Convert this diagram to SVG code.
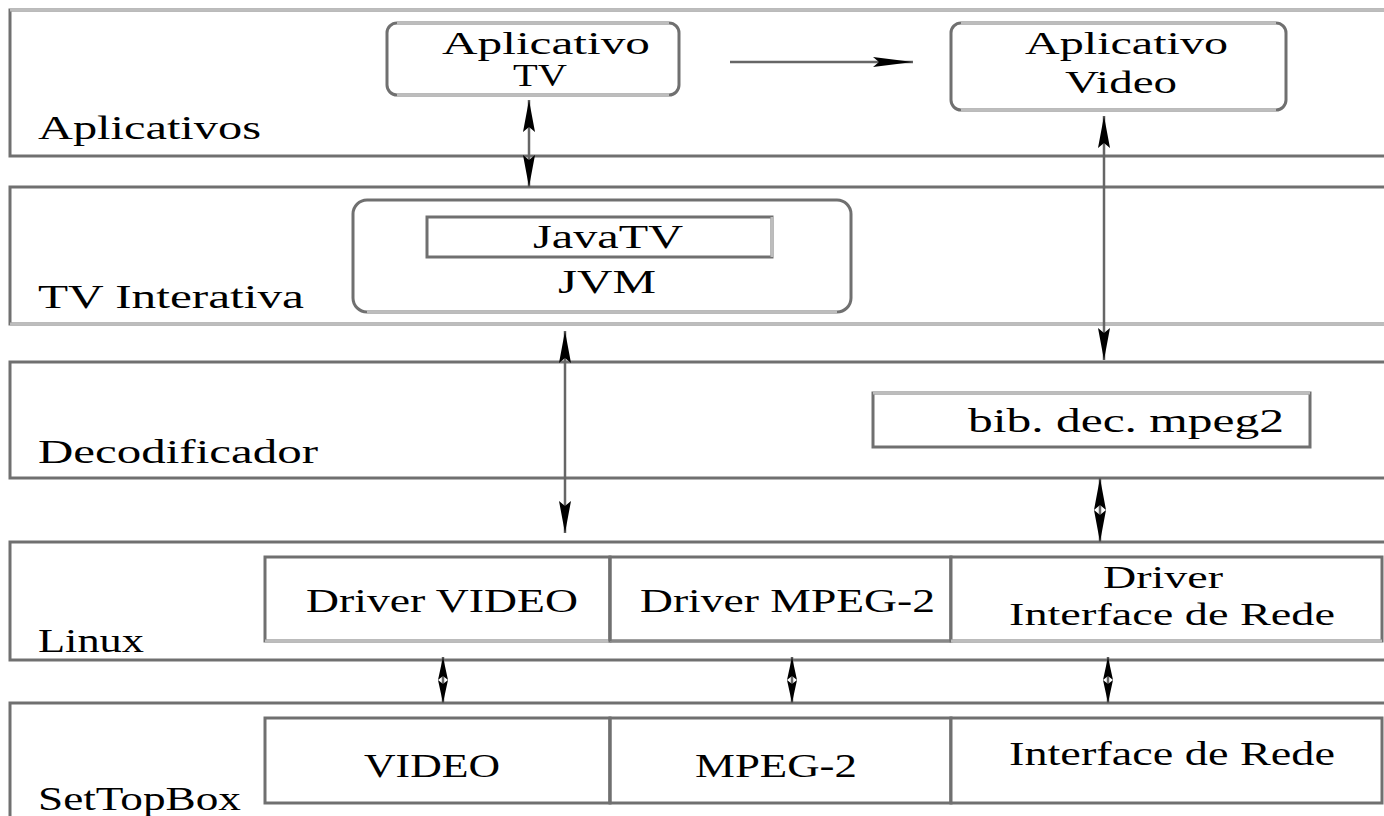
<svg xmlns="http://www.w3.org/2000/svg" width="1384" height="816" viewBox="0 0 1384 816">
<style>
text{font-family:"Liberation Serif","DejaVu Serif","Times New Roman",serif;font-size:34px;fill:#000;}
.two{font-size:31px;}
.layer{fill:none;stroke:#707070;stroke-width:3;}
.lt{stroke:#bdbdbd;stroke-width:3;fill:none;}
.box{fill:#fff;stroke:#707070;stroke-width:3;}
.conn{stroke:#666;stroke-width:2.5;fill:none;}
</style>
<defs>
<marker id="ah" markerUnits="userSpaceOnUse" markerWidth="34" markerHeight="14" refX="32" refY="7" orient="auto-start-reverse">
<path d="M0,1 L32,7 L0,13 L5,7 z" fill="#000"/>
</marker>
<marker id="ahs" markerUnits="userSpaceOnUse" markerWidth="24" markerHeight="12" refX="23" refY="6" orient="auto-start-reverse">
<path d="M0,1 L23,6 L0,11 L4,6 z" fill="#000"/>
</marker>
<marker id="ahh" markerUnits="userSpaceOnUse" markerWidth="42" markerHeight="12" refX="40" refY="6" orient="auto">
<path d="M0,1 L40,6 L0,11 L6,6 z" fill="#000"/>
</marker>
</defs>
<rect width="1384" height="816" fill="#fff"/>

<g id="layer-aplicativos">
<rect class="layer" x="10" y="10" width="1390" height="146"/>
<line class="lt" x1="10" y1="10" x2="1390" y2="10"/>
<text x="38" y="139" textLength="223" lengthAdjust="spacingAndGlyphs">Aplicativos</text>
</g>
<g id="layer-tv-interativa">
<rect class="layer" x="10" y="187" width="1390" height="137"/>
<line class="lt" x1="10" y1="324" x2="1390" y2="324"/>
<text x="38" y="308" textLength="266" lengthAdjust="spacingAndGlyphs">TV Interativa</text>
</g>
<g id="layer-decodificador">
<rect class="layer" x="10" y="362" width="1390" height="116"/>
<text x="38" y="463" textLength="280" lengthAdjust="spacingAndGlyphs">Decodificador</text>
</g>
<g id="layer-linux">
<rect class="layer" x="10" y="542" width="1390" height="118"/>
<text x="38" y="652" textLength="106" lengthAdjust="spacingAndGlyphs">Linux</text>
</g>
<g id="layer-settopbox">
<rect class="layer" x="10" y="703" width="1390" height="130"/>
<text x="38" y="810" textLength="203" lengthAdjust="spacingAndGlyphs">SetTopBox</text>
</g>

<g id="node-aplicativo-tv">
<rect class="box" x="387" y="23" width="292" height="72" rx="10"/>
<line class="lt" x1="397" y1="23" x2="669" y2="23"/>
<line class="lt" x1="397" y1="95" x2="669" y2="95"/>
<text class="two" x="442" y="54" textLength="208" lengthAdjust="spacingAndGlyphs">Aplicativo</text>
<text class="two" x="513" y="86" textLength="54" lengthAdjust="spacingAndGlyphs">TV</text>
</g>
<g id="node-aplicativo-video">
<rect class="box" x="951" y="23" width="335" height="87" rx="10" stroke="#909090"/>
<line class="lt" x1="961" y1="23" x2="1276" y2="23"/>
<line class="lt" x1="961" y1="110" x2="1276" y2="110"/>
<text class="two" x="1025" y="54" textLength="203" lengthAdjust="spacingAndGlyphs">Aplicativo</text>
<text class="two" x="1065" y="93" textLength="112" lengthAdjust="spacingAndGlyphs">Video</text>
</g>
<g id="node-jvm">
<rect class="box" x="353" y="200" width="498" height="112" rx="14"/>
<line class="lt" x1="367" y1="312" x2="837" y2="312"/>
<text x="558" y="293" textLength="98" lengthAdjust="spacingAndGlyphs">JVM</text>
</g>
<g id="node-javatv">
<rect class="box" x="427" y="217" width="345" height="40"/>
<line class="lt" x1="772" y1="217" x2="772" y2="257"/>
<text x="533" y="248" textLength="150" lengthAdjust="spacingAndGlyphs">JavaTV</text>
</g>
<g id="node-bib">
<rect class="box" x="873" y="393" width="437" height="54"/>
<line class="lt" x1="873" y1="393" x2="1310" y2="393"/>
<text x="968" y="432" textLength="316" lengthAdjust="spacingAndGlyphs">bib. dec. mpeg2</text>
</g>

<g id="node-driver-video">
<rect class="box" x="265" y="557" width="345" height="84"/>
<line class="lt" x1="265" y1="641" x2="610" y2="641"/>
<text x="306" y="612" textLength="272" lengthAdjust="spacingAndGlyphs">Driver VIDEO</text>
</g>
<g id="node-driver-mpeg2">
<rect class="box" x="610" y="557" width="341" height="84" stroke="#404040"/>
<line x1="610" y1="641" x2="951" y2="641" stroke="#888" stroke-width="3"/>
<line class="box" x1="610" y1="557" x2="610" y2="641"/>
<line class="box" x1="951" y1="557" x2="951" y2="641"/>
<text x="640" y="612" textLength="295" lengthAdjust="spacingAndGlyphs">Driver MPEG-2</text>
</g>
<g id="node-driver-rede">
<rect class="box" x="951" y="557" width="431" height="84"/>
<line class="lt" x1="951" y1="641" x2="1382" y2="641"/>
<text class="two" x="1103" y="588" textLength="120" lengthAdjust="spacingAndGlyphs">Driver</text>
<text class="two" x="1009" y="625" textLength="326" lengthAdjust="spacingAndGlyphs">Interface de Rede</text>
</g>

<g id="node-video">
<rect class="box" x="265" y="718" width="345" height="85"/>
<text x="364" y="777" textLength="136" lengthAdjust="spacingAndGlyphs">VIDEO</text>
</g>
<g id="node-mpeg2">
<rect class="box" x="610" y="718" width="341" height="85" stroke="#404040"/>
<line class="box" x1="610" y1="718" x2="610" y2="803"/>
<line class="box" x1="951" y1="718" x2="951" y2="803"/>
<text x="695" y="777" textLength="162" lengthAdjust="spacingAndGlyphs">MPEG-2</text>
</g>
<g id="node-rede">
<rect class="box" x="951" y="718" width="431" height="85"/>
<text x="1009" y="765" textLength="326" lengthAdjust="spacingAndGlyphs">Interface de Rede</text>
</g>

<g id="connectors">
<line class="conn" x1="529" y1="100" x2="529" y2="187" marker-start="url(#ah)" marker-end="url(#ah)"/>
<line class="conn" x1="730" y1="62" x2="913" y2="62" marker-end="url(#ahh)"/>
<line class="conn" x1="1104" y1="116" x2="1104" y2="360" marker-start="url(#ah)" marker-end="url(#ah)"/>
<line class="conn" x1="565" y1="331" x2="565" y2="533" marker-start="url(#ah)" marker-end="url(#ah)"/>
<line class="conn" x1="1100" y1="478" x2="1100" y2="542" marker-start="url(#ah)" marker-end="url(#ah)"/>
<line class="conn" x1="443" y1="657" x2="443" y2="703" marker-start="url(#ahs)" marker-end="url(#ahs)"/>
<line class="conn" x1="792" y1="657" x2="792" y2="703" marker-start="url(#ahs)" marker-end="url(#ahs)"/>
<line class="conn" x1="1108" y1="657" x2="1108" y2="703" marker-start="url(#ahs)" marker-end="url(#ahs)"/>
</g>
</svg>
